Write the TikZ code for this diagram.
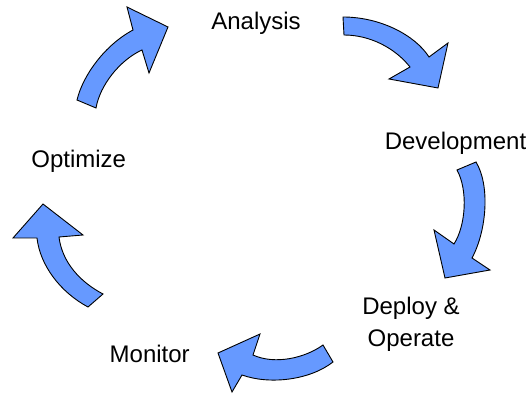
\documentclass[tikz,border=0pt]{standalone}
\usepackage{fontspec}
\setmainfont{Liberation Sans}
\definecolor{arrowblue}{RGB}{102,153,255}
\tikzset{
  cyclearrow/.style={draw=black, line width=0.9pt, fill=arrowblue, line join=miter},
  phase/.style={inner sep=0pt, anchor=base, font=\fontsize{24}{32.4}\selectfont, align=center}
}
\begin{document}
\begin{tikzpicture}[x=1pt,y=-1pt]
\useasboundingbox (0,0) rectangle (530,395);
% labels
\node[phase] (analysis) at (256,29.5) {Analysis};
\node[phase] (development) at (455.5,149.3) {Development};
\node[phase] (deploy) at (411,346.7) {Deploy \&\\Operate};
\node[phase] (monitor) at (149.7,362.3) {Monitor};
\node[phase] (optimize) at (78.7,167.7) {Optimize};
% arrow: Optimize -> Analysis
\draw[cyclearrow] (77,100) .. controls (83,75) and (105,45) .. (133,30)
  -- (127,7) -- (168,27) -- (149,73) -- (142,50)
  .. controls (120,60) and (100,85) .. (96,108) -- cycle;
% arrow: Analysis -> Development
\draw[cyclearrow] (343,17) .. controls (380,17) and (415,35) .. (429,57)
  -- (448,43) -- (438,88) -- (389,79) -- (410,67)
  .. controls (395,48) and (370,35) .. (344,35) -- cycle;
% arrow: Development -> Deploy
\draw[cyclearrow] (476,162) .. controls (490,185) and (487,230) .. (472,258)
  -- (490,270) -- (445,278) -- (434,230) -- (454,244)
  .. controls (466,225) and (468,190) .. (457,170) -- cycle;
% arrow: Deploy -> Monitor
\draw[cyclearrow] (323,345) .. controls (305,358) and (275,365) .. (253,355)
  -- (260,334) -- (218,353) -- (232,392) -- (242,375)
  .. controls (270,385) and (310,380) .. (333,362) -- cycle;
% arrow: Monitor -> Optimize
\draw[cyclearrow] (103,294) .. controls (80,282) and (62,262) .. (59,237)
  -- (83,235) -- (43,204) -- (13,238) -- (37,238)
  .. controls (40,265) and (60,292) .. (88,307) -- cycle;
\end{tikzpicture}
\end{document}
